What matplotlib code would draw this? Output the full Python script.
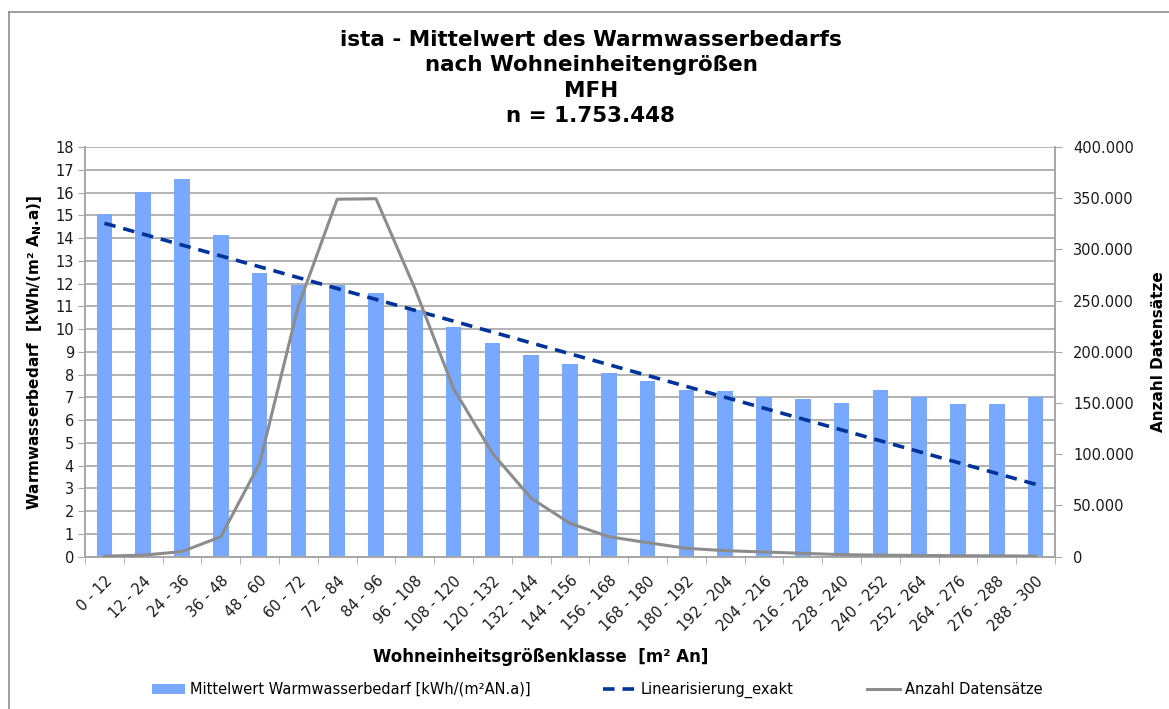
import numpy as np
import matplotlib.pyplot as plt
from matplotlib.lines import Line2D
from matplotlib.ticker import FuncFormatter

###############################################################################
# Data
###############################################################################
classes = [
    '0 - 12', '12 - 24', '24 - 36', '36 - 48', '48 - 60', '60 - 72',
    '72 - 84', '84 - 96', '96 - 108', '108 - 120', '120 - 132', '132 - 144',
    '144 - 156', '156 - 168', '168 - 180', '180 - 192', '192 - 204',
    '204 - 216', '216 - 228', '228 - 240', '240 - 252', '252 - 264',
    '264 - 276', '276 - 288', '288 - 300'
]
mean_demand = [
    15.07, 16.03, 16.60, 14.15, 12.48, 11.92, 11.92, 11.60, 10.82, 10.08,
    9.41, 8.88, 8.46, 8.05, 7.70, 7.34, 7.29, 7.00, 6.93, 6.77,
    7.34, 7.02, 6.73, 6.73, 7.02
]
record_count = [
    500, 1500, 5000, 19500, 91000, 245000, 349000, 349500, 262000, 164000,
    101000, 57000, 32600, 19500, 13700, 8200, 5900, 4600, 3300, 2000,
    1500, 1200, 1000, 800, 600
]
# linearisation: read at first and last class
trend_idx = [0, 24]
trend_val = [14.65, 3.18]

###############################################################################
# Plot
###############################################################################
(W, H, DPI) = (1169, 709, 100)
BAR_C = '#78a8ff'
TREND_C = '#003399'
CNT_C = '#8c8c8c'
GRID_C = '#a6a6a6'
plt.rcParams['font.family'] = ['DejaVu Sans']

fig = plt.figure(figsize=(W/DPI, H/DPI), dpi=DPI)
ax = fig.add_axes([85/W, 1-556.7/H, (1055-85)/W, (556.7-147)/H])
ax2 = ax.twinx()

x = np.arange(len(classes))
bars = ax.bar(x, mean_demand, width=0.4, color=BAR_C, zorder=2,
              label='Mittelwert Warmwasserbedarf [kWh/(m²AN.a)]')
(trend, ) = ax.plot(trend_idx, trend_val, color=TREND_C, lw=2.6,
                    dashes=(3.2, 2.2), zorder=3, label='Linearisierung_exakt')
(cnt, ) = ax2.plot(x, record_count, color=CNT_C, lw=2.2, zorder=3,
                   label='Anzahl Datensätze')

# left axis
ax.set_xlim(-0.5, len(classes)-0.5)
ax.set_ylim(0, 18)
ax.set_yticks(range(0, 19))
ax.yaxis.grid(True, color=GRID_C, lw=1.2)
ax.set_axisbelow(True)
ax.tick_params(axis='y', length=5, color=GRID_C, labelsize=10.5,
               labelcolor='#1a1a1a', pad=3)
ax.set_ylabel('Warmwasserbedarf  [kWh/(m² A$_\\mathregular{N}$.a)]',
              fontsize=11, fontweight='bold', labelpad=8)

# x axis: labels at centres, marks between classes
ax.set_xticks(x)
ax.set_xticklabels(classes, rotation=45, ha='right', rotation_mode='anchor',
                   fontsize=10.5, color='#1a1a1a')
ax.tick_params(axis='x', which='major', length=0, pad=12)
ax.set_xticks(np.arange(-0.5, len(classes)), minor=True)
ax.tick_params(axis='x', which='minor', length=5, color=GRID_C)
ax.set_xlabel('Wohneinheitsgrößenklasse  [m² An]', fontsize=12,
              fontweight='bold')
ax.xaxis.set_label_coords((541-85)/(1055-85), -(648-556.7)/(556.7-147))

# right axis
ax2.set_ylim(0, 400000)
ax2.set_yticks(range(0, 400001, 50000))
ax2.yaxis.set_major_formatter(
    FuncFormatter(lambda v, p: f'{int(v):,}'.replace(',', '.')))
ax2.tick_params(axis='y', length=5, color=GRID_C, labelsize=10.5,
                labelcolor='#1a1a1a', pad=8)
ax2.set_ylabel('Anzahl Datensätze', fontsize=11, fontweight='bold',
               labelpad=12)

for a in (ax, ax2):
    a.spines['top'].set_visible(False)
    for s in ('left', 'right', 'bottom'):
        a.spines[s].set_color(GRID_C)
        a.spines[s].set_linewidth(1.2)

# title
fig.text(591/W, 1-78/H,
         'ista - Mittelwert des Warmwasserbedarfs\nnach Wohneinheitengrößen\n'
         'MFH\nn = 1.753.448',
         ha='center', va='center', fontsize=15.5, fontweight='bold',
         linespacing=1.32)

# legend
fig.legend([bars, trend, cnt],
           [bars.get_label(), trend.get_label(), cnt.get_label()],
           loc='center', bbox_to_anchor=(597/W, 1-690/H),
           ncol=3, frameon=False, fontsize=10.5, handlelength=2.3,
           handletextpad=0.3, columnspacing=5.0)

# chart border (left and top)
fig.add_artist(Line2D([9/W, 9/W], [0, 1-12/H], color='#8c8c8c', lw=1.2))
fig.add_artist(Line2D([9/W, 1], [1-12/H, 1-12/H], color='#8c8c8c', lw=1.2))

fig.savefig('out.png', dpi=DPI, facecolor='white')
plt.close('all')
